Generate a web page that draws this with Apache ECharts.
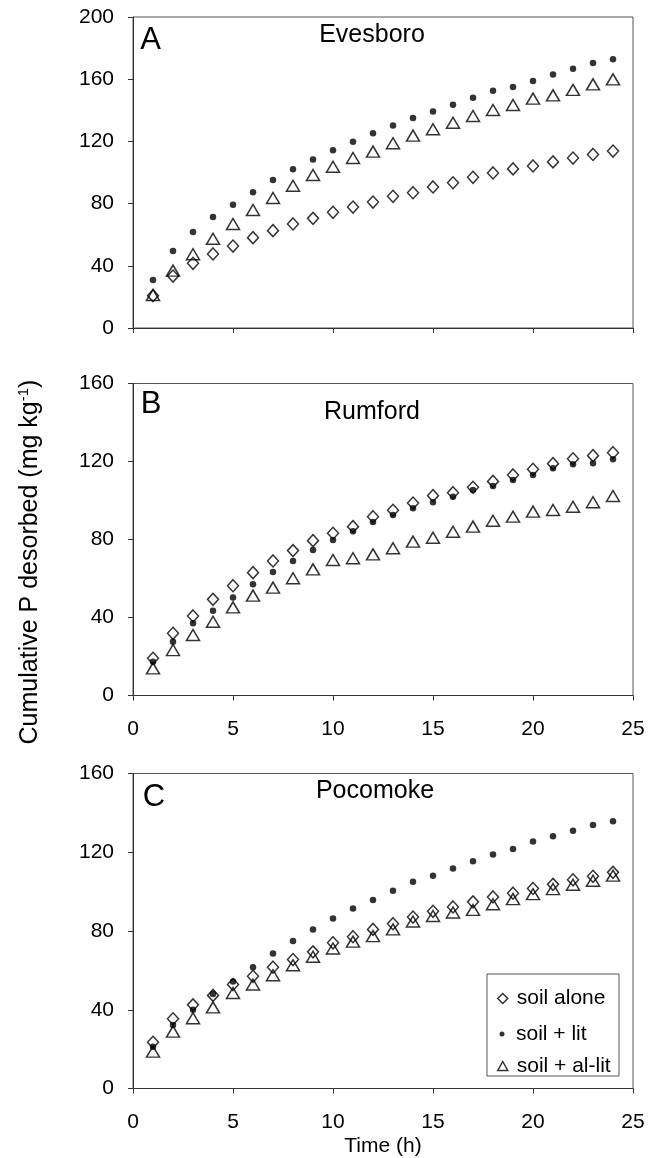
<!DOCTYPE html>
<html>
<head>
<meta charset="utf-8">
<title>Cumulative P desorbed</title>
<script src="https://cdn.jsdelivr.net/npm/echarts@6/dist/echarts.min.js"></script>
<style>
  html, body { margin: 0; padding: 0; background: #fff; }
  #chart { width: 657px; height: 1158px; }
</style>
</head>
<body>
<div id="chart"></div>
<script>
// time (h)
var hours = [1, 2, 3, 4, 5, 6, 7, 8, 9, 10, 11, 12, 13, 14, 15, 16, 17, 18, 19, 20, 21, 22, 23, 24];

// A - Evesboro
var evesboroSoil  = [20.8, 33.4, 41.6, 47.6, 52.7, 58.1, 62.6, 66.9, 70.5, 74.4, 77.8, 81.0, 84.7, 87.0, 90.7, 93.4, 96.9, 99.7, 102.3, 104.2, 106.8, 109.3, 111.6, 113.8];
var evesboroLit   = [30.9, 49.5, 61.7, 71.4, 79.3, 87.3, 95.2, 102.1, 108.3, 114.3, 119.8, 125.2, 130.3, 135.0, 139.3, 143.6, 148.1, 152.6, 155.0, 158.8, 163.1, 166.8, 170.4, 172.8];
var evesboroAlLit = [21.2, 36.9, 47.4, 57.4, 66.9, 75.9, 83.6, 91.5, 98.4, 103.7, 109.3, 113.4, 118.8, 123.7, 127.8, 132.0, 136.3, 140.2, 143.4, 147.5, 149.6, 153.1, 156.7, 159.9];

// B - Rumford
var rumfordSoil  = [19.1, 31.9, 40.8, 49.3, 56.3, 63.0, 69.0, 74.3, 79.4, 83.2, 86.6, 91.7, 95.0, 98.7, 102.5, 104.0, 106.8, 109.8, 113.1, 116.0, 118.9, 121.4, 123.0, 124.5];
var rumfordLit   = [17.3, 27.6, 37.0, 43.5, 50.2, 57.0, 63.3, 69.0, 74.6, 79.7, 84.2, 89.0, 92.6, 96.0, 99.1, 101.9, 105.4, 107.4, 110.5, 113.1, 116.5, 118.6, 119.1, 121.1];
var rumfordAlLit = [13.9, 23.3, 31.0, 37.8, 45.2, 51.2, 55.3, 60.1, 64.7, 69.5, 70.4, 72.4, 75.5, 78.9, 80.9, 84.0, 86.6, 89.6, 91.7, 94.3, 95.1, 96.8, 99.1, 102.3];

// C - Pocomoke
var pocomokeSoil  = [23.5, 35.4, 42.5, 47.3, 52.8, 57.0, 61.6, 65.5, 69.4, 74.0, 77.1, 80.8, 83.7, 87.1, 90.0, 92.2, 94.8, 97.3, 99.2, 101.6, 103.7, 106.0, 107.8, 109.8];
var pocomokeLit   = [21.2, 32.3, 40.0, 48.0, 54.4, 61.6, 68.6, 74.9, 80.8, 86.3, 91.4, 95.7, 100.4, 105.0, 108.1, 111.8, 115.4, 118.8, 121.7, 125.4, 128.1, 130.9, 133.8, 135.7];
var pocomokeAlLit = [18.7, 28.9, 35.7, 41.2, 48.5, 52.8, 57.5, 62.6, 66.9, 71.1, 74.6, 77.4, 80.8, 84.8, 87.6, 89.4, 90.7, 93.6, 96.2, 98.7, 101.3, 103.5, 105.5, 108.1];

var treatments = ['soil alone', 'soil + lit', 'soil + al-lit'];
var siteNames = ['Evesboro', 'Rumford', 'Pocomoke'];
var panelLetters = ['A', 'B', 'C'];
var yMaxes = [200, 160, 160];

var FONT = "'Liberation Sans', Arial, sans-serif";
var chart = echarts.init(document.getElementById('chart'));

function pairs(values) {
  var out = [];
  for (var i = 0; i < hours.length; i++) out.push([hours[i], values[i]]);
  return out;
}

// marker style per treatment
var markers = {
  'soil alone':    { symbol: 'diamond',  symbolSize: [11, 12], itemStyle: { color: 'rgba(0,0,0,0)', borderColor: '#000', borderWidth: 1.5 } },
  'soil + al-lit': { symbol: 'triangle', symbolSize: [13, 11], itemStyle: { color: 'rgba(0,0,0,0)', borderColor: '#000', borderWidth: 1.5 } },
  'soil + lit':    { symbol: 'circle',   symbolSize: 6.5,      itemStyle: { color: '#000' } }
};

var panels = [
  { 'soil alone': evesboroSoil, 'soil + lit': evesboroLit, 'soil + al-lit': evesboroAlLit },
  { 'soil alone': rumfordSoil,  'soil + lit': rumfordLit,  'soil + al-lit': rumfordAlLit },
  { 'soil alone': pocomokeSoil, 'soil + lit': pocomokeLit, 'soil + al-lit': pocomokeAlLit }
];

var grids = [
  { left: 133, right: 24, top: 17,    height: 311 },
  { left: 133, right: 24, top: 383.5, height: 312 },
  { left: 133, right: 24, top: 773.5, height: 315 }
];

var xAxes = [], yAxes = [], series = [];
for (var g = 0; g < 3; g++) {
  grids[g].show = true;
  grids[g].borderColor = '#555';
  grids[g].borderWidth = 1;
  xAxes.push({
    type: 'value', gridIndex: g, min: 0, max: 25, interval: 5,
    axisLine: { show: true, lineStyle: { color: '#333', width: 1 } },
    axisTick: { show: true, inside: false, length: 5, lineStyle: { color: '#333' } },
    axisLabel: { show: g > 0, margin: 23, color: '#000', fontSize: 21, fontFamily: FONT },
    splitLine: { show: false },
    name: g === 2 ? 'Time (h)' : '',
    nameLocation: 'middle', nameGap: 47,
    nameTextStyle: { color: '#000', fontSize: 21, fontFamily: FONT }
  });
  yAxes.push({
    type: 'value', gridIndex: g, min: 0, max: yMaxes[g], interval: 40,
    axisLine: { show: true, lineStyle: { color: '#333', width: 1 } },
    axisTick: { show: true, inside: false, length: 5, lineStyle: { color: '#333' } },
    axisLabel: { margin: 19, color: '#000', fontSize: 21, fontFamily: FONT },
    splitLine: { show: false }
  });
  // draw order: diamonds, triangles, then dots on top
  ['soil alone', 'soil + al-lit', 'soil + lit'].forEach(function (t) {
    var m = markers[t];
    series.push({
      name: t, type: 'scatter', xAxisIndex: g, yAxisIndex: g,
      symbol: m.symbol, symbolSize: m.symbolSize, itemStyle: m.itemStyle,
      data: pairs(panels[g][t]), silent: true
    });
  });
}

// one legend per entry so each icon can keep its own size
function legendFor(name, icon, w, h, left, top, pad) {
  var st = markers[name].itemStyle;
  return {
    data: [{ name: name, icon: icon, itemStyle: st }],
    orient: 'vertical', left: left, top: top, padding: 0,
    itemWidth: w, itemHeight: h, selectedMode: false,
    textStyle: { color: '#000', fontSize: 21, fontFamily: FONT, padding: [0, 0, 0, pad] }
  };
}

var titlePos = [[372, 35], [372, 412], [375, 791]];
var letterPos = [[150.5, 40], [151, 404], [154, 797]];
var graphics = [];
for (var k = 0; k < 3; k++) {
  graphics.push({ type: 'text', x: titlePos[k][0], y: titlePos[k][1], silent: true,
    style: { text: siteNames[k], fontSize: 25, fontFamily: FONT, fill: '#000', align: 'center', verticalAlign: 'middle' } });
  graphics.push({ type: 'text', x: letterPos[k][0], y: letterPos[k][1], silent: true,
    style: { text: panelLetters[k], fontSize: 31, fontFamily: FONT, fill: '#000', align: 'center', verticalAlign: 'middle' } });
}
graphics.push({ type: 'text', x: 30, y: 562, rotation: Math.PI / 2, silent: true,
  style: {
    text: 'Cumulative P desorbed (mg kg{sup|-1})',
    fontSize: 25, fontFamily: FONT, fill: '#000', align: 'center', verticalAlign: 'middle',
    rich: { sup: { fontSize: 15, fontFamily: FONT, fill: '#000', verticalAlign: 'top', lineHeight: 28 } }
  } });
// legend frame
graphics.push({ type: 'rect', silent: true, z: 0,
  shape: { x: 487, y: 974, width: 132, height: 102 },
  style: { fill: '#fff', stroke: '#555', lineWidth: 1 } });

chart.setOption({
  animation: false,
  backgroundColor: '#fff',
  grid: grids,
  xAxis: xAxes,
  yAxis: yAxes,
  legend: [
    legendFor('soil alone', 'diamond', 10, 10, 497, 988, 4),
    legendFor('soil + lit', 'circle', 5, 5, 499.5, 1023.5, 6.5),
    legendFor('soil + al-lit', 'triangle', 10, 9, 497, 1055.5, 4)
  ],
  graphic: graphics,
  series: series
});
</script>
</body>
</html>
